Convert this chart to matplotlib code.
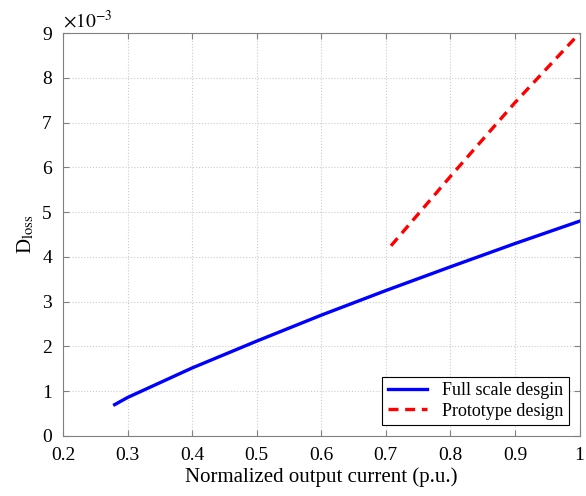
import numpy as np
import matplotlib
matplotlib.use("Agg")
import matplotlib.pyplot as plt

plt.rcParams['font.family'] = ['Liberation Serif', 'DejaVu Serif']
plt.rcParams['mathtext.fontset'] = 'stix'

# Full scale design curve
x_full = [0.28, 0.3, 0.4, 0.5, 0.6, 0.7, 0.8, 0.9, 1.0]
y_full = [0.70, 0.86, 1.52, 2.12, 2.70, 3.25, 3.78, 4.30, 4.80]

# Prototype design curve
x_proto = [0.708, 0.8, 0.9, 1.0]
y_proto = [4.25, 5.80, 7.45, 9.00]

fig = plt.figure(figsize=(5.86, 4.96), dpi=100)
ax = fig.add_axes([0.1075, 0.121, 0.8815, 0.812])

ax.plot(x_full, np.array(y_full) * 1e-3, color='#0000ff', lw=2.4, label='Full scale desgin')
ax.plot(x_proto, np.array(y_proto) * 1e-3, color='#ff0000', lw=2.4, ls=(0, (3.0, 2.0)),
        label='Prototype design')

ax.set_xlim(0.2, 1.0)
ax.set_ylim(0, 9e-3)
ax.set_xticks([0.2, 0.3, 0.4, 0.5, 0.6, 0.7, 0.8, 0.9, 1.0])
ax.set_xticklabels(['0.2', '0.3', '0.4', '0.5', '0.6', '0.7', '0.8', '0.9', '1'])
ax.set_yticks(np.arange(0, 10) * 1e-3)
ax.set_yticklabels([str(i) for i in range(10)])

ax.grid(True, ls=':', color='#cccccc', lw=0.8)
ax.tick_params(direction='in', top=True, right=True, labelsize=14, color='#808080', length=4)
ax.tick_params(axis='x', pad=8)
ax.tick_params(axis='y', pad=8)
for s in ax.spines.values():
    s.set_color('#808080')

ax.text(0.0, 1.005, r'$\times 10^{-3}$', transform=ax.transAxes, fontsize=14, va='bottom', ha='left')

ax.set_xlabel('Normalized output current (p.u.)', fontsize=15, labelpad=2)
ax.set_ylabel(r'D$_{\rm loss}$', fontsize=15, labelpad=4)

leg = ax.legend(loc='lower right', fontsize=13, frameon=True, fancybox=False,
                edgecolor='#000000', framealpha=1, borderpad=0.3, handlelength=2.2,
                labelspacing=0.2, borderaxespad=0.6)
leg.get_frame().set_linewidth(0.8)

fig.savefig('out.png', dpi=100)
